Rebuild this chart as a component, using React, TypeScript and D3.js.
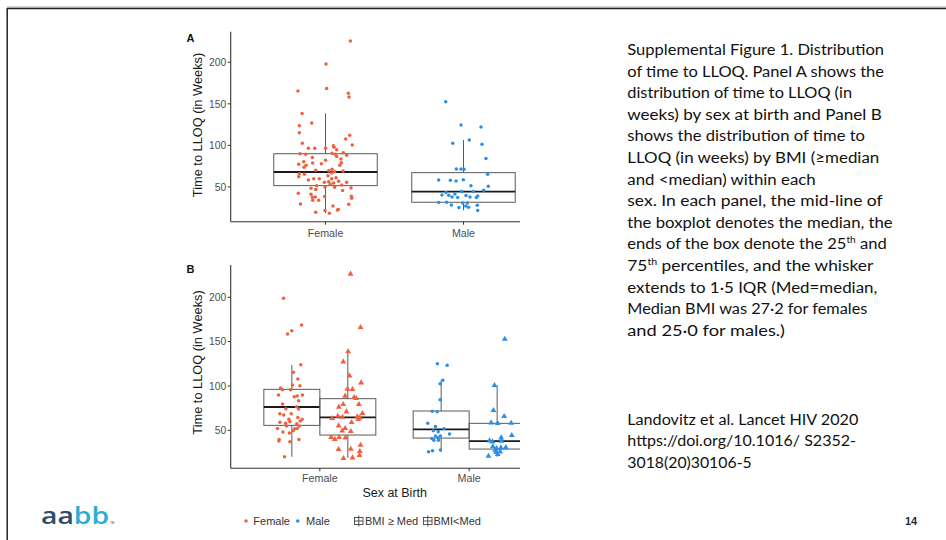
import React from "react";
import * as d3 from "d3";

// ---------------- DATA ----------------
const categories = ["Female", "Male"];
const yTicks = [50, 100, 150, 200];

// box statistics: [lower whisker, Q1, median, Q3, upper whisker]
const boxA_Female = [18.4, 51.6, 68, 90, 138.6];
const boxA_Male = [22, 31.6, 44.4, 67.2, 106.5];
const boxB_FemaleHigh = [20.2, 55.6, 76.3, 96.2, 123.6];
const boxB_FemaleLow = [19, 44.7, 64.6, 85.7, 139.8];
const boxB_MaleHigh = [25.9, 41.3, 51.1, 71.8, 106.7];
const boxB_MaleLow = [20.2, 28.9, 37.9, 57.9, 101.1];

// points: [weeks, jitter (category units)]
const ptsA_Female = [
  [225.5, 0.18], [197.8, 0.004], [168.6, 0.008], [162.6, 0.165], [158.2, 0.17], [165.4, -0.2], [138.5, -0.17],
  [126.9, -0.1], [123.7, -0.19], [115.3, -0.19], [112.1, 0.175], [107.7, 0.146], [102.5, -0.168], [100.5, 0.194],
  [99.7, 0.057], [97.7, 0.062], [96.5, -0.124], [96.5, -0.078], [96.5, 0.001], [94.9, 0.081], [90.1, -0.185],
  [90.5, 0.047], [89.3, 0.071], [91.3, 0.129], [89.3, -0.144], [86.5, 0.081], [88.1, 0.153], [83.7, 0.112],
  [85.3, -0.095], [80.4, -0.158], [78.8, -0.093], [78, -0.03], [79.2, 0.115], [77.2, -0.194], [76, -0.141],
  [73.6, -0.156], [82, 0.001], [76, 0.103], [70, -0.071], [71.2, 0.047], [69.6, 0.023], [68.4, 0.066],
  [66.8, 0.045], [69.2, 0.127], [66, -0.19], [65.2, -0.153], [62.4, -0.194], [63.6, 0.018], [61.2, 0.076],
  [60, -0.085], [60, -0.045], [60, 0.045], [58.4, -0.124], [56.4, 0.023], [56.8, 0.095], [55.6, -0.008],
  [55.6, 0.153], [54.8, 0.059], [53.2, 0.035], [52.4, 0.117], [51.6, -0.064], [50, -0.004], [49.6, 0.066],
  [48.8, 0.185], [48.4, -0.105], [46.8, -0.071], [45.6, 0.124], [42.4, -0.197], [41.2, -0.105], [38.8, 0.187],
  [37.6, -0.095], [38, -0.074], [34, -0.093], [29.6, -0.182], [29.2, 0.168], [27.2, 0.054], [22.8, 0.093],
  [21.6, -0.004], [19.6, -0.071], [18.4, 0.028], [22.4, 0.086], [38.4, -0.006], [34, -0.05], [36.4, 0.19],
];
const ptsA_Male = [
  [152.6, -0.129], [124.5, -0.018], [122.1, 0.127], [102.5, -0.078], [106.5, 0.042], [101.3, 0.134], [84.1, 0.163],
  [71.6, -0.052], [71.6, -0.018], [71.2, 0.004], [65.2, 0.175], [58.4, -0.18], [58, -0.095], [57.2, -0.054],
  [58.8, -0.001], [51.6, 0.054], [50.8, 0.18], [46, 0.146], [44.4, -0.013], [44.4, 0.071], [43.2, -0.127],
  [41.6, -0.062], [40.4, -0.156], [40, -0.107], [39.6, 0.018], [39.2, 0.103], [38, -0.083], [37.2, -0.042],
  [38, 0.047], [37.2, 0.093], [31.2, -0.18], [31.6, -0.122], [30.8, -0.006], [30.8, 0.028], [28.4, -0.088],
  [27.2, 0.016], [28, 0.1], [25.2, -0.033], [25.6, 0.037], [21.6, 0.103],
];
const ptsB_FemaleHigh = [
  [198.8, -0.056], [158.6, -0.029], [162.4, 0], [168.7, 0.065], [124, 0.06], [115.4, 0.011], [107.9, 0.04],
  [101.1, 0.004], [97.7, -0.076], [95.8, -0.062], [95.8, -0.009], [100.4, 0.054], [89.8, -0.089], [89.8, 0.071],
  [87.9, 0.016], [88.7, 0.036], [83.4, 0.045], [79.7, -0.062], [76.7, 0.031], [74.4, -0.04], [74, 0.045],
  [68.8, -0.08], [68.8, -0.004], [67.3, -0.054], [64.6, 0.04], [62.4, -0.02], [62.4, 0.069], [60.5, 0.056],
  [59.7, -0.013], [59, -0.08], [57.9, -0.042], [57.5, 0.033], [54.8, 0.049], [54.8, -0.036], [52.2, -0.096],
  [51.8, 0.02], [52.2, 0.036], [49.5, 0.009], [48, -0.06], [46.9, -0.016], [39.8, -0.085], [39.8, 0.047],
  [37.2, -0.013], [37.9, -0.087], [20.3, -0.049],
];
const ptsB_FemaleLow = [
  [226.3, 0.018], [166.1, 0.085], [138.7, 0.002], [127.4, -0.031], [111.6, 0.011], [103.7, 0.089], [96.6, -0.002],
  [96.2, 0.031], [88.7, -0.018], [87.2, 0.042], [86.1, 0.056], [76.3, -0.06], [79.3, -0.031], [79.3, 0.074],
  [71, -0.009], [69.1, 0.098], [66.1, -0.067], [65.4, 0.063], [64.2, 0.08], [63.5, -0.105], [65, -0.036],
  [62.4, 0.07], [59, 0.025], [55.2, -0.062], [52.2, -0.018], [49.5, -0.038], [48.8, 0.02], [41.7, -0.016],
  [42.1, -0.112], [42.1, -0.058], [39.8, -0.087], [33.4, 0.085], [28.5, -0.062], [28.9, 0.02], [26.3, 0.08],
  [21.8, 0.078], [18.4, -0.029], [19.1, 0.031],
];
const ptsB_MaleHigh = [
  [125.1, -0.025], [123.3, 0.04], [106.4, 0.011], [102.6, -0.007], [84.6, -0.007], [71, -0.027], [71.4, -0.06],
  [57.9, -0.09], [54.2, -0.038], [51.9, 0.018], [45.9, 0.056], [49.6, -0.052], [48.5, -0.02], [43.6, -0.038],
  [43.6, -0.005], [40.9, -0.063], [41.7, -0.02], [38.7, -0.049], [38.7, -0.018], [27.8, -0.005], [25.9, -0.085],
  [27, -0.058],
];
const ptsB_MaleLow = [
  [152.9, 0.051], [100.7, -0.018], [72.5, -0.025], [65.8, 0.047], [58.6, -0.04], [57.9, 0.004], [58.2, 0.094],
  [44.3, 0.098], [38.3, -0.051], [37.2, -0.031], [41.7, 0.027], [38, 0.029], [31.6, -0.029], [29.7, -0.004],
  [30.4, 0.025], [30.8, 0.058], [21, -0.058], [22.9, 0.004], [25.9, 0.02], [25.1, -0.007], [27.7, -0.014],
];

const captionLines = [
  [["Supplemental Figure 1. Distribution", false]],
  [["of time to LLOQ. Panel A shows the", false]],
  [["distribution of time to LLOQ (in", false]],
  [["weeks) by sex at birth and Panel B", false]],
  [["shows the distribution of time to", false]],
  [["LLOQ (in weeks) by BMI (\u2265median", false]],
  [["and <median) within each", false]],
  [["sex. In each panel, the mid-line of", false]],
  [["the boxplot denotes the median, the", false]],
  [["ends of the box denote the 25", false], ["th", true], [" and", false]],
  [["75", false], ["th", true], [" percentiles, and the whisker", false]],
  [["extends to 1\u00b75 IQR (Med=median,", false]],
  [["Median BMI was 27\u00b72 for females", false]],
  [["and 25\u00b70 for males.)", false]],
];
const citationLines = [
  "Landovitz et al. Lancet HIV 2020",
  "https://doi.org/10.1016/ S2352-",
  "3018(20)30106-5",
];

// ---------------- LAYOUT / STYLE ----------------
const W = 946, H = 540;
const FEMALE = "#F0603F";
const MALE = "#2B8FE6";
const AXIS_FONT = "'Liberation Sans', Arial, sans-serif";
const TEXT_FONT = "Lato, 'Open Sans', sans-serif";
const captionWidths = [256.7, 256.7, 224.7, 254.4, 237.7, 252, 188.4, 255.4, 265.4, 259.4, 246, 250, 240, 157.7];
const citationWidths = [231, 228.7, 124.4];

const triangle = d3.symbol().type(d3.symbolTriangle).size(15)();

function BoxPlot({ cx, w, s, y }: { cx: number; w: number; s: number[]; y: d3.ScaleLinear<number, number> }) {
  const [lo, q1, med, q3, hi] = s;
  const stroke = "#5a5a5a";
  return (
    <g>
      <line x1={cx} x2={cx} y1={y(hi)} y2={y(q3)} stroke={stroke} strokeWidth={1} />
      <line x1={cx} x2={cx} y1={y(q1)} y2={y(lo)} stroke={stroke} strokeWidth={1} />
      <rect x={cx - w / 2} y={y(q3)} width={w} height={y(q1) - y(q3)} fill="none" stroke={stroke} strokeWidth={1} />
      <line x1={cx - w / 2} x2={cx + w / 2} y1={y(med)} y2={y(med)} stroke="#1a1a1a" strokeWidth={1.8} />
    </g>
  );
}

function Points({ data, cx, step, y, color, tri }: any) {
  return (
    <g>
      {data.map((d: number[], i: number) =>
        tri ? (
          <path key={i} d={triangle as string} transform={`translate(${cx + d[1] * step},${y(d[0])})`} fill={color} />
        ) : (
          <circle key={i} cx={cx + d[1] * step} cy={y(d[0])} r={1.75} fill={color} />
        )
      )}
    </g>
  );
}

function Axes({ x, y, x0, x1, yTop, yBot, labelY, title, titleY, letter, letterY }: any) {
  return (
    <g fontFamily={AXIS_FONT}>
      <line x1={x0} x2={x0} y1={yTop} y2={yBot} stroke="#333" strokeWidth={1.1} />
      <line x1={x0} x2={x1} y1={yBot} y2={yBot} stroke="#333" strokeWidth={1.1} />
      {yTicks.map((t) => (
        <g key={t}>
          <line x1={x0 - 3} x2={x0} y1={y(t)} y2={y(t)} stroke="#333" strokeWidth={1} />
          <text x={x0 - 4.5} y={y(t) + 3.7} textAnchor="end" fontSize={10.3} fill="#4d4d4d">{t}</text>
        </g>
      ))}
      {categories.map((c) => (
        <g key={c}>
          <line x1={x(c)} x2={x(c)} y1={yBot} y2={yBot + 3} stroke="#333" strokeWidth={1} />
          <text x={x(c)} y={labelY} textAnchor="middle" fontSize={10.7} fill="#4d4d4d">{c}</text>
        </g>
      ))}
      <text transform={`translate(202,${titleY}) rotate(-90)`} textAnchor="middle" fontSize={12.8} fill="#1a1a1a">
        {title}
      </text>
      <text x={186.5} y={letterY} fontSize={11} fontWeight="bold" fill="#111">{letter}</text>
    </g>
  );
}

export default function App() {
  const xA = d3.scalePoint<string>().domain(categories).range([231, 558]).padding(0.685);
  const yA = d3.scaleLinear().domain([8.2, 236.8]).range([221.7, 31.7]);
  const xB = d3.scalePoint<string>().domain(categories).range([231, 558]).padding(0.595);
  const yB = d3.scaleLinear().domain([7.2, 236.4]).range([468.3, 265]);
  const sA = xA.step();
  const sB = xB.step();
  const dodge = sB * 0.1875;
  const bwB = sB * 0.375;

  const fA = xA("Female")!, mA = xA("Male")!;
  const fB = xB("Female")!, mB = xB("Male")!;

  const legendY = 521;

  return (
    <svg width={W} height={H} style={{ position: "absolute", left: 0, top: 0, background: "#fff" }}>
      <defs>
        <clipPath id="crop">
          <rect x={0} y={0} width={520} height={H} />
        </clipPath>
      </defs>
      <rect x={0} y={0} width={W} height={H} fill="#fff" />
      {/* slide frame */}
      <line x1={7} x2={W} y1={7} y2={7} stroke="#b0b0b0" strokeWidth={1} />
      <line x1={7} x2={W} y1={8.6} y2={8.6} stroke="#222" strokeWidth={1.5} />
      <line x1={7.2} x2={7.2} y1={8} y2={H} stroke="#222" strokeWidth={1.5} />

      <g clipPath="url(#crop)">
        {/* Panel A */}
        <BoxPlot cx={fA} w={sA * 0.75} s={boxA_Female} y={yA} />
        <BoxPlot cx={mA} w={sA * 0.75} s={boxA_Male} y={yA} />
        <Points data={ptsA_Female} cx={fA} step={sA} y={yA} color={FEMALE} />
        <Points data={ptsA_Male} cx={mA} step={sA} y={yA} color={MALE} />
        <Axes x={xA} y={yA} x0={230.7} x1={520} yTop={31.7} yBot={221.7} labelY={236.5}
          title="Time to LLOQ (in Weeks)" titleY={125} letter="A" letterY={41.5} />

        {/* Panel B */}
        <BoxPlot cx={fB - dodge} w={bwB} s={boxB_FemaleHigh} y={yB} />
        <BoxPlot cx={fB + dodge} w={bwB} s={boxB_FemaleLow} y={yB} />
        <BoxPlot cx={mB - dodge} w={bwB} s={boxB_MaleHigh} y={yB} />
        <BoxPlot cx={mB + dodge} w={bwB} s={boxB_MaleLow} y={yB} />
        <Points data={ptsB_FemaleHigh} cx={fB - dodge} step={sB} y={yB} color={FEMALE} />
        <Points data={ptsB_FemaleLow} cx={fB + dodge} step={sB} y={yB} color={FEMALE} tri />
        <Points data={ptsB_MaleHigh} cx={mB - dodge} step={sB} y={yB} color={MALE} />
        <Points data={ptsB_MaleLow} cx={mB + dodge} step={sB} y={yB} color={MALE} tri />
        <Axes x={xB} y={yB} x0={230.7} x1={520} yTop={265} yBot={468.3} labelY={482}
          title="Time to LLOQ (in Weeks)" titleY={362.5} letter="B" letterY={272.5} />
        <text x={394.7} y={496.8} textAnchor="middle" fontFamily={AXIS_FONT} fontSize={12.5} fill="#1a1a1a">
          Sex at Birth
        </text>
      </g>

      {/* Legend */}
      <g fontFamily={AXIS_FONT} fontSize={11} fill="#333">
        <circle cx={246} cy={legendY} r={1.75} fill={FEMALE} />
        <text x={253.3} y={legendY + 3.8}>Female</text>
        <circle cx={297.7} cy={legendY} r={1.75} fill={MALE} />
        <text x={306} y={legendY + 3.8}>Male</text>
        {[354.5, 423.5].map((gx, i) => (
          <g key={i} stroke="#444" strokeWidth={0.9} fill="none">
            <rect x={gx} y={legendY - 3.5} width={8.5} height={7} />
            <line x1={gx} x2={gx + 8.5} y1={legendY} y2={legendY} />
            <line x1={gx + 4.25} x2={gx + 4.25} y1={legendY - 5.5} y2={legendY + 5.5} />
          </g>
        ))}
        <text x={365} y={legendY + 3.8}>BMI {"\u2265"} Med</text>
        <text x={433.5} y={legendY + 3.8}>BMI&lt;Med</text>
      </g>

      {/* Caption */}
      <g fontFamily={TEXT_FONT} fontSize={15.5} fill="#111">
        {captionLines.map((segs, i) => (
          <text key={i} x={627.3} y={55 + i * 21.6} textLength={captionWidths[i]} lengthAdjust="spacingAndGlyphs">
            {(segs as any[]).map((s, j) =>
              s[1] ? (
                <tspan key={j} fontSize={9.5} dy={-6}>{s[0]}</tspan>
              ) : (
                <tspan key={j} dy={j > 0 && (segs as any[])[j - 1][1] ? 6 : 0}>{s[0]}</tspan>
              )
            )}
          </text>
        ))}
        {citationLines.map((l, i) => (
          <text key={i} x={627.3} y={425 + i * 21.4} textLength={citationWidths[i]} lengthAdjust="spacingAndGlyphs">
            {l}
          </text>
        ))}
      </g>

      {/* Logo */}
      <text x={41} y={524} fontFamily="'Open Sans', sans-serif" fontSize={23} fontWeight={600} textLength={68} lengthAdjust="spacingAndGlyphs">
        <tspan fill="#2e4d6e">aa</tspan>
        <tspan fill="#2aaed0">bb</tspan>
      </text>
      <text x={110} y={524} fontFamily={AXIS_FONT} fontSize={3} fill="#2e4d6e">TM</text>

      {/* page number */}
      <text x={905} y={524.5} fontFamily={AXIS_FONT} fontSize={11} fontWeight="bold" fill="#1f2d3d">14</text>
    </svg>
  );
}
